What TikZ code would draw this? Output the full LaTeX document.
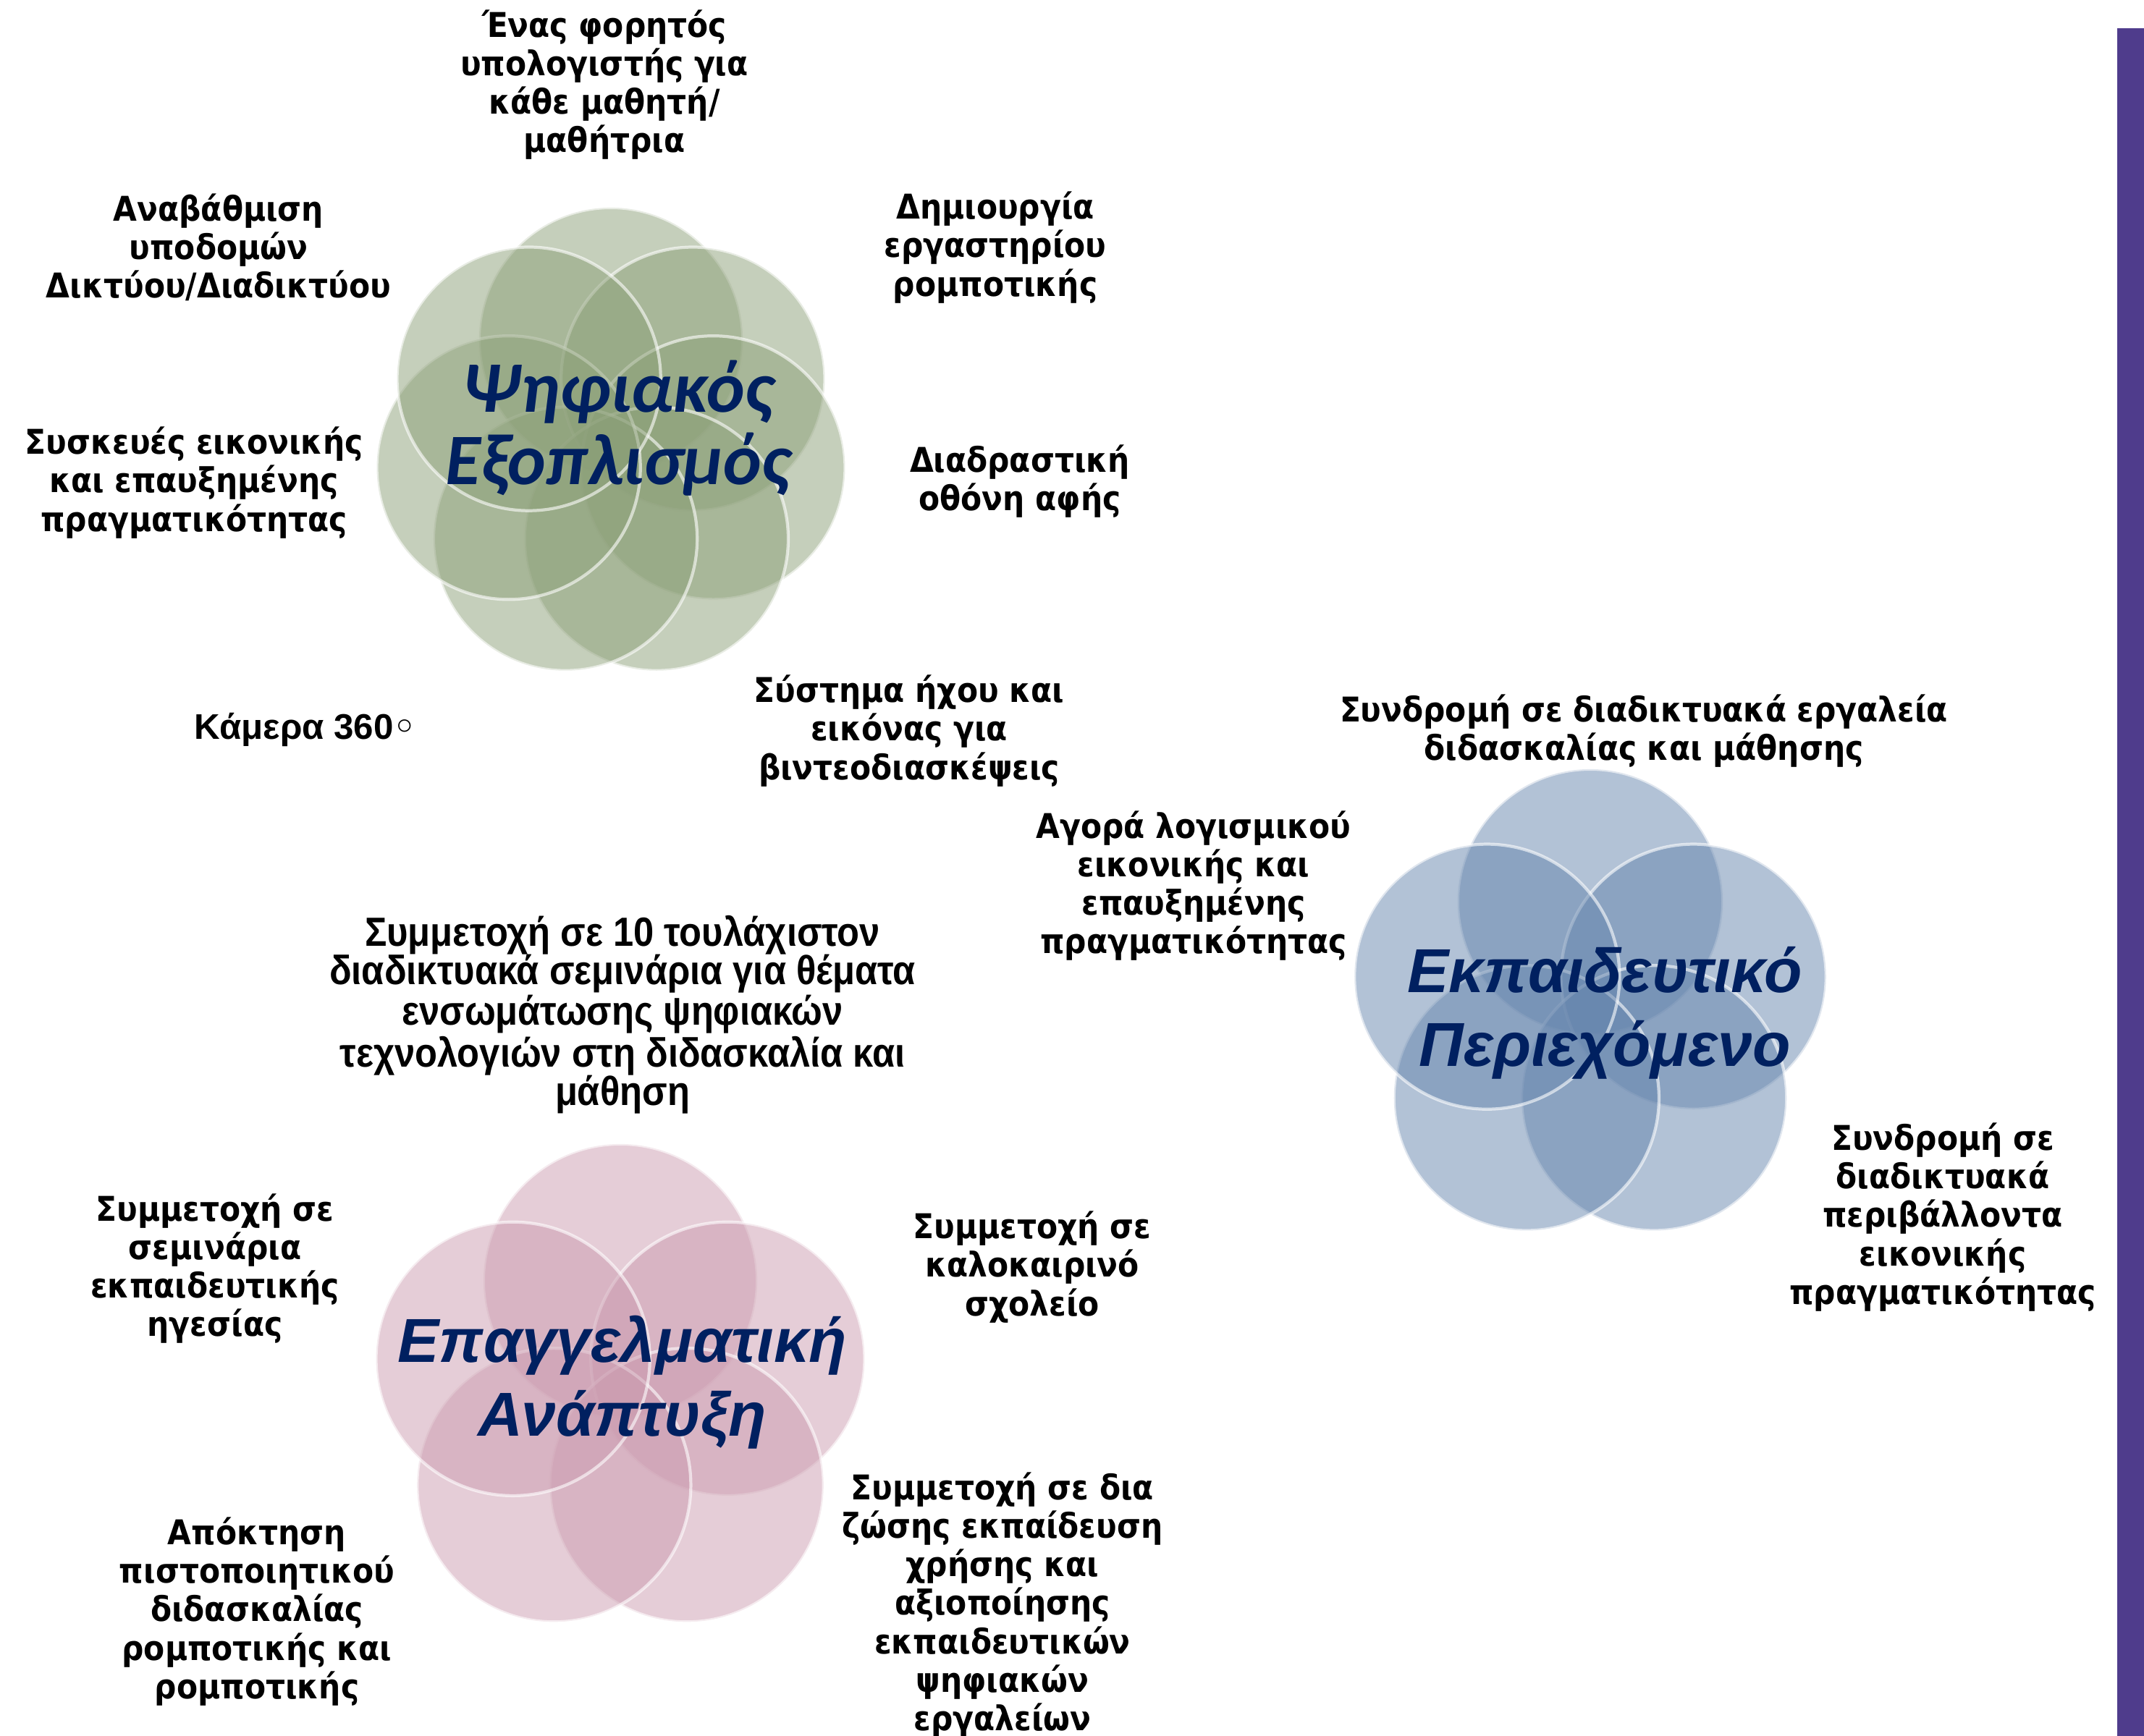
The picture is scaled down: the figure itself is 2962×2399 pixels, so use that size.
\documentclass[tikz,border=0pt]{standalone}
\usepackage{fontspec}
\setmainfont{Liberation Sans}
\newfontfamily\tahfont{DejaVu Sans Condensed}
\newfontfamily\calfont{Carlito}
\newfontfamily\narfont[FakeStretch=0.9]{Liberation Sans}
\newfontfamily\symfont{DejaVu Sans}
\usepackage{tikz}
\usetikzlibrary{positioning}
\definecolor{verde}{RGB}{139, 159, 119}
\definecolor{azul}{RGB}{101, 133, 173}
\definecolor{rosa}{RGB}{203, 155, 175}
\definecolor{marino}{RGB}{0, 32, 96}
\definecolor{morado}{RGB}{79, 60, 140}
\tikzset{
    bub/.style={circle, inner sep=0pt, fill=#1, fill opacity=0.5, draw=white, draw opacity=0.6, line width=1.2pt},
    lbl/.style={align=center, inner sep=0pt, font=\tahfont\bfseries\fontsize{13.4}{15.1}\selectfont},
    ttl/.style={align=center, inner sep=0pt, text=marino, font=\bfseries\itshape\fontsize{24.4}{29}\selectfont},
}

\begin{document}
\begin{tikzpicture}[x=0.01cm, y=-0.01cm]
    \useasboundingbox (0,0) rectangle (2962,2399);
    \fill[morado] (2925,39) rectangle (2962,2399);

    % Ψηφιακός Εξοπλισμός
    \foreach \i in {0,...,6}
        \path (844,614) ++(-90+\i*51.43:145) node[bub=verde, minimum size=3.64cm] (g\i) {};
    \node[ttl, font=\calfont\bfseries\itshape\fontsize{28.5}{28.5}\selectfont] (gt) at (854,592) {Ψηφιακός\\Εξοπλισμός};

    \node[lbl] (glap) at (835,117) {Ένας φορητός\\υπολογιστής για\\κάθε μαθητή/\\μαθήτρια};
    \node[lbl] (grob) at (1375,342) {Δημιουργία\\εργαστηρίου\\ρομποτικής};
    \node[lbl] (goth) at (1409,665) {Διαδραστική\\οθόνη αφής};
    \node[lbl] (gixo) at (1256,1010) {Σύστημα ήχου και\\εικόνας για\\βιντεοδιασκέψεις};
    \node[lbl, font=\bfseries\fontsize{14}{15.1}\selectfont] (gcam) at (422,1008) {Κάμερα 360{\symfont ◦}};
    \node[lbl] (gvr) at (268,667) {Συσκευές εικονικής\\και επαυξημένης\\πραγματικότητας};
    \node[lbl] (gnet) at (302,342) {Αναβάθμιση\\υποδομών\\Δικτύου/Διαδικτύου};

    % Εκπαιδευτικό Περιεχόμενο
    \foreach \i in {0,...,4}
        \path (2197,1396) ++(-90+\i*72:150) node[bub=azul, minimum size=3.66cm] (b\i) {};
    \node[ttl] (bt) at (2217,1400) {Εκπαιδευτικό\\Περιεχόμενο};

    \node[lbl] (bsyn) at (2271,1010) {Συνδρομή σε διαδικτυακά εργαλεία\\διδασκαλίας και μάθησης};
    \node[lbl] (bago) at (1649,1224) {Αγορά λογισμικού\\εικονικής και\\επαυξημένης\\πραγματικότητας};
    \node[lbl] (bper) at (2684,1682) {Συνδρομή σε\\διαδικτυακά\\περιβάλλοντα\\εικονικής\\πραγματικότητας};

    % Επαγγελματική Ανάπτυξη
    \foreach \i in {0,...,4}
        \path (857,1926) ++(-90+\i*72:156) node[bub=rosa, minimum size=3.78cm] (p\i) {};
    \node[ttl] (pt) at (860,1910) {Επαγγελματική\\Ανάπτυξη};

    \node[lbl, font=\narfont\bfseries\fontsize{16}{15.1}\selectfont] (pweb) at (860,1402) {Συμμετοχή σε 10 τουλάχιστον\\διαδικτυακά σεμινάρια για θέματα\\ενσωμάτωσης ψηφιακών\\τεχνολογιών στη διδασκαλία και\\μάθηση};
    \node[lbl] (phge) at (297,1753) {Συμμετοχή σε\\σεμινάρια\\εκπαιδευτικής\\ηγεσίας};
    \node[lbl] (pkal) at (1426,1751) {Συμμετοχή σε\\καλοκαιρινό\\σχολείο};
    \node[lbl] (pdia) at (1385,2218) {Συμμετοχή σε δια\\ζώσης εκπαίδευση\\χρήσης και\\αξιοποίησης\\εκπαιδευτικών\\ψηφιακών\\εργαλείων};
    \node[lbl] (ppis) at (355,2227) {Απόκτηση\\πιστοποιητικού\\διδασκαλίας\\ρομποτικής και\\ρομποτικής};
\end{tikzpicture}
\end{document}
